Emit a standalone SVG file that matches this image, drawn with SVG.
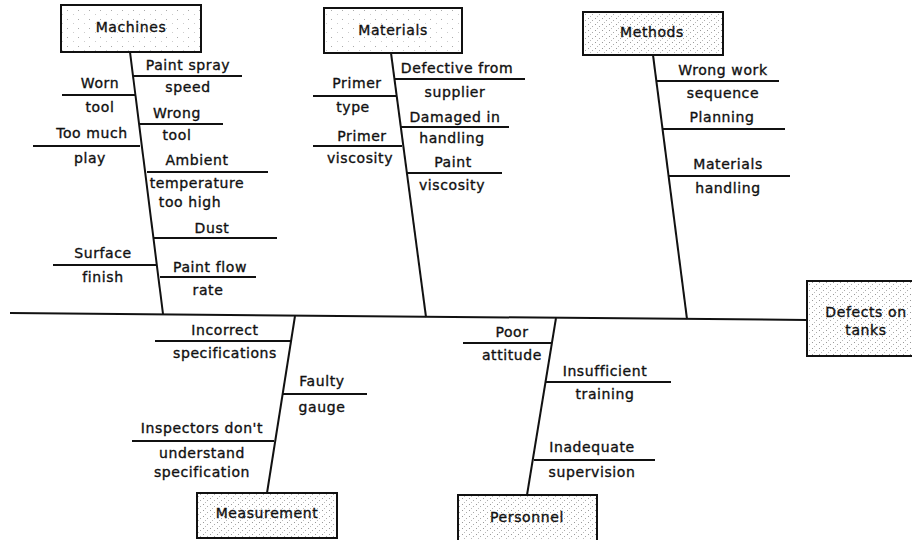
<svg xmlns="http://www.w3.org/2000/svg" width="912" height="540" viewBox="0 0 912 540">
<style>
.t{font-family:"DejaVu Sans","Liberation Sans",sans-serif;font-size:14px;letter-spacing:0.6px;fill:#111;stroke:#111;stroke-width:0.35px;text-anchor:middle}
.ln{stroke:#111;stroke-width:2;fill:none;stroke-linecap:butt}
.box{stroke:#111;stroke-width:2}
.light{fill:url(#dotsL)}
.dense{fill:url(#dotsD)}
</style>
<defs>
<pattern id="dotsL" width="11" height="9" patternUnits="userSpaceOnUse">
<rect width="11" height="9" fill="#fff"/>
<rect x="1" y="1" width="1" height="1" fill="#aaa"/>
<rect x="7" y="5" width="1" height="1" fill="#ccc"/>
</pattern>
<pattern id="dotsD" width="7" height="6" patternUnits="userSpaceOnUse">
<rect width="7" height="6" fill="#fff"/>
<rect x="0" y="0" width="1" height="1" fill="#999"/>
<rect x="4" y="2" width="1" height="1" fill="#aaa"/>
<rect x="2" y="4" width="1" height="1" fill="#bbb"/>
</pattern>
</defs>
<rect width="912" height="540" fill="#fff"/>
<g id="connectors" class="ln">
<line x1="10" y1="313" x2="807" y2="320"/>
<line x1="130" y1="52" x2="163" y2="314"/>
<line x1="391" y1="53" x2="426" y2="317"/>
<line x1="653" y1="55" x2="687" y2="319"/>
<line x1="295" y1="316" x2="267" y2="493"/>
<line x1="556" y1="318" x2="527" y2="495"/>
<line x1="133" y1="76" x2="242" y2="76"/>
<line x1="62" y1="95" x2="135" y2="95"/>
<line x1="140" y1="124" x2="223" y2="124"/>
<line x1="33" y1="146" x2="140" y2="146"/>
<line x1="147" y1="172" x2="268" y2="172"/>
<line x1="154" y1="238" x2="277" y2="238"/>
<line x1="53" y1="265" x2="157" y2="265"/>
<line x1="160" y1="277" x2="256" y2="277"/>
<line x1="395" y1="79" x2="525" y2="79"/>
<line x1="313" y1="96" x2="397" y2="96"/>
<line x1="400" y1="127" x2="509" y2="127"/>
<line x1="313" y1="146" x2="402" y2="146"/>
<line x1="407" y1="173" x2="502" y2="173"/>
<line x1="657" y1="81" x2="779" y2="81"/>
<line x1="663" y1="129" x2="785" y2="129"/>
<line x1="669" y1="176" x2="790" y2="176"/>
<line x1="155" y1="341" x2="291" y2="341"/>
<line x1="283" y1="394" x2="367" y2="394"/>
<line x1="132" y1="441" x2="274" y2="441"/>
<line x1="463" y1="343" x2="552" y2="343"/>
<line x1="546" y1="382" x2="671" y2="382"/>
<line x1="534" y1="460" x2="655" y2="460"/>
</g>
<g id="effect"><rect class="box dense" x="807" y="281" width="110" height="75"/><text class="t" x="866" y="317">Defects on</text><text class="t" x="866" y="335">tanks</text></g>
<g id="machines"><rect class="box light" x="61" y="5" width="140" height="47"/><text class="t" x="131" y="32">Machines</text></g>
<g id="materials"><rect class="box light" x="324" y="8" width="138" height="45"/><text class="t" x="393" y="35">Materials</text></g>
<g id="methods"><rect class="box dense" x="583" y="12" width="140" height="43"/><text class="t" x="652" y="37">Methods</text></g>
<g id="measurement"><rect class="box dense" x="197" y="493" width="140" height="45"/><text class="t" x="267" y="518">Measurement</text></g>
<g id="personnel"><rect class="box dense" x="458" y="495" width="139" height="46"/><text class="t" x="527" y="522">Personnel</text></g>
<g id="c-paint-spray"><text class="t" x="188" y="70">Paint spray</text><text class="t" x="188" y="92">speed</text></g>
<g id="c-worn-tool"><text class="t" x="100" y="88">Worn</text><text class="t" x="100" y="112">tool</text></g>
<g id="c-wrong-tool"><text class="t" x="177" y="118">Wrong</text><text class="t" x="177" y="140">tool</text></g>
<g id="c-too-much-play"><text class="t" x="92" y="138">Too much</text><text class="t" x="90" y="163">play</text></g>
<g id="c-ambient"><text class="t" x="197" y="165">Ambient</text><text class="t" x="197" y="188">temperature</text><text class="t" x="190" y="207">too high</text></g>
<g id="c-dust"><text class="t" x="212" y="233">Dust</text></g>
<g id="c-surface"><text class="t" x="103" y="258">Surface</text><text class="t" x="103" y="282">finish</text></g>
<g id="c-paint-flow"><text class="t" x="210" y="272">Paint flow</text><text class="t" x="208" y="295">rate</text></g>
<g id="c-defective"><text class="t" x="457" y="73">Defective from</text><text class="t" x="455" y="97">supplier</text></g>
<g id="c-primer-type"><text class="t" x="357" y="88">Primer</text><text class="t" x="353" y="112">type</text></g>
<g id="c-damaged"><text class="t" x="455" y="122">Damaged in</text><text class="t" x="452" y="143">handling</text></g>
<g id="c-primer-visc"><text class="t" x="362" y="141">Primer</text><text class="t" x="360" y="163">viscosity</text></g>
<g id="c-paint-visc"><text class="t" x="453" y="167">Paint</text><text class="t" x="452" y="190">viscosity</text></g>
<g id="c-wrong-work"><text class="t" x="723" y="75">Wrong work</text><text class="t" x="723" y="98">sequence</text></g>
<g id="c-planning"><text class="t" x="722" y="122">Planning</text></g>
<g id="c-mat-handling"><text class="t" x="728" y="169">Materials</text><text class="t" x="728" y="193">handling</text></g>
<g id="c-incorrect"><text class="t" x="225" y="335">Incorrect</text><text class="t" x="225" y="358">specifications</text></g>
<g id="c-faulty"><text class="t" x="322" y="386">Faulty</text><text class="t" x="322" y="412">gauge</text></g>
<g id="c-inspectors"><text class="t" x="202" y="433">Inspectors don't</text><text class="t" x="202" y="458">understand</text><text class="t" x="202" y="477">specification</text></g>
<g id="c-poor"><text class="t" x="512" y="337">Poor</text><text class="t" x="512" y="360">attitude</text></g>
<g id="c-insufficient"><text class="t" x="605" y="376">Insufficient</text><text class="t" x="605" y="399">training</text></g>
<g id="c-inadequate"><text class="t" x="592" y="452">Inadequate</text><text class="t" x="592" y="477">supervision</text></g>
</svg>
